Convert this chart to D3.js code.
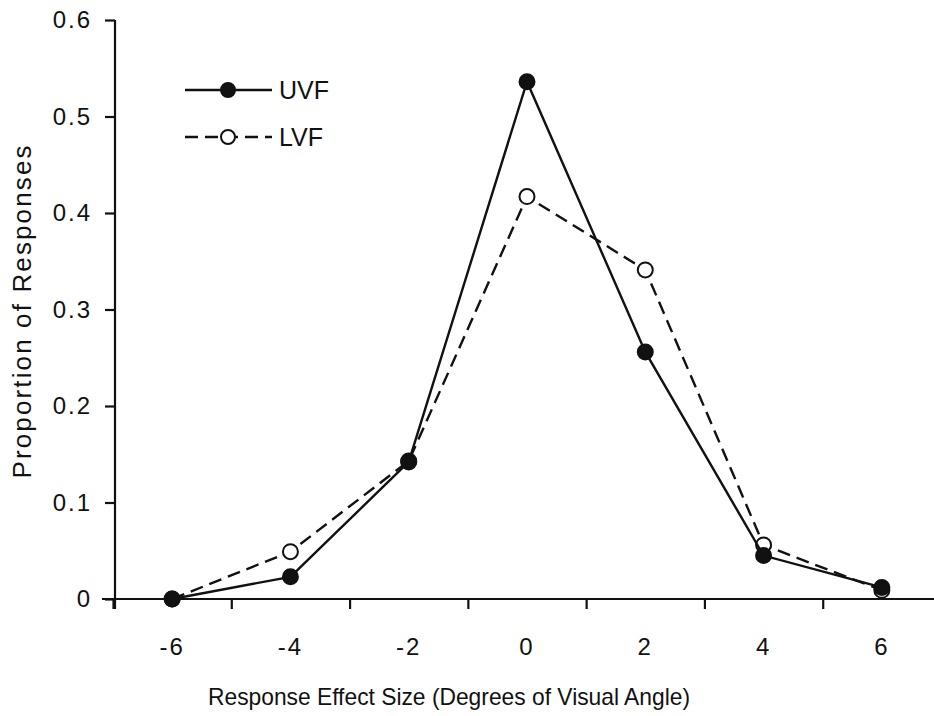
<!DOCTYPE html>
<html>
<head>
<meta charset="utf-8">
<script src="https://cdn.jsdelivr.net/npm/d3@7"></script>
<style>
  body { margin: 0; background: #fff; }
  text { font-family: "Liberation Sans", Arial, sans-serif; fill: #111; }
</style>
</head>
<body>
<svg id="chart" width="934" height="716"></svg>
<script>
// data
const effectSizes = [-6, -4, -2, 0, 2, 4, 6];
const uvf = [0.0, 0.023, 0.142, 0.536, 0.256, 0.045, 0.012];
const lvf = [0.0, 0.049, 0.143, 0.417, 0.341, 0.056, 0.009];
const yTicks = [0, 0.1, 0.2, 0.3, 0.4, 0.5, 0.6];
const xTickMarks = [-7, -5, -3, -1, 1, 3, 5];
const seriesNames = ["UVF", "LVF"];

const svg = d3.select("#chart");

// scales
const x = d3.scaleLinear().domain([-7, 7]).range([113, 941]);
const y = d3.scaleLinear().domain([0, 0.6]).range([599, 20]);

// y axis
const yAxis = svg.append("g")
  .attr("transform", "translate(115,0)")
  .call(d3.axisLeft(y).tickValues(yTicks).tickSize(10).tickSizeOuter(0)
    .tickFormat(d => d === 0 ? "0" : d3.format(".1f")(d)));
yAxis.select(".domain").attr("d", `M0,${y(0.6)}V${y(0) + 10}`);

// x axis (ticks sit between categories)
const xAxis = svg.append("g")
  .attr("transform", `translate(0,${y(0)})`)
  .call(d3.axisBottom(x).tickValues(xTickMarks).tickSize(10).tickSizeOuter(0).tickFormat(""));
xAxis.select(".domain").attr("d", `M${x(-7) - 11},0H934`);

svg.selectAll(".domain, .tick line").attr("stroke", "#111").attr("stroke-width", 2.2);
yAxis.selectAll("text")
  .attr("font-size", 24)
  .attr("letter-spacing", 2)
  .attr("dx", -10)
  .attr("fill", "#111");

// x labels at the category centres
svg.append("g").selectAll("text")
  .data(effectSizes)
  .join("text")
  .attr("x", d => x(d))
  .attr("y", 655)
  .attr("text-anchor", "middle")
  .attr("font-size", 24)
  .attr("letter-spacing", 2)
  .text(d => d);

// axis titles
svg.append("text")
  .attr("x", 449).attr("y", 705)
  .attr("text-anchor", "middle")
  .attr("font-size", 24)
  .attr("textLength", 482)
  .attr("lengthAdjust", "spacingAndGlyphs")
  .text("Response Effect Size (Degrees of Visual Angle)");

svg.append("text")
  .attr("transform", "translate(31,312) rotate(-90)")
  .attr("text-anchor", "middle")
  .attr("font-size", 26)
  .attr("textLength", 333)
  .attr("lengthAdjust", "spacing")
  .text("Proportion of Responses");

// lines
const line = d3.line().x(d => x(d[0])).y(d => y(d[1]));
const series = [
  { name: seriesNames[1], vals: lvf, dash: "13,7", fill: "#fff" },
  { name: seriesNames[0], vals: uvf, dash: null, fill: "#111" }
];

series.forEach(s => {
  const pts = effectSizes.map((e, i) => [e, s.vals[i]]);
  svg.append("path")
    .datum(pts)
    .attr("d", line)
    .attr("fill", "none")
    .attr("stroke", "#111")
    .attr("stroke-width", 2.4)
    .attr("stroke-dasharray", s.dash);
  svg.append("g").selectAll("circle")
    .data(pts)
    .join("circle")
    .attr("cx", d => x(d[0]))
    .attr("cy", d => y(d[1]))
    .attr("r", 7.5)
    .attr("fill", s.fill)
    .attr("stroke", "#111")
    .attr("stroke-width", 2);
});

// legend
const legend = svg.append("g");
[series[1], series[0]].forEach((s, i) => {
  const ly = 90 + i * 47;
  legend.append("line")
    .attr("x1", 185).attr("x2", 272)
    .attr("y1", ly).attr("y2", ly)
    .attr("stroke", "#111")
    .attr("stroke-width", 2.4)
    .attr("stroke-dasharray", s.dash);
  legend.append("circle")
    .attr("cx", 228).attr("cy", ly).attr("r", 7)
    .attr("fill", s.fill).attr("stroke", "#111").attr("stroke-width", 2);
  legend.append("text")
    .attr("x", 279).attr("y", ly + 9)
    .attr("font-size", 25)
    .text(s.name);
});
</script>
</body>
</html>
